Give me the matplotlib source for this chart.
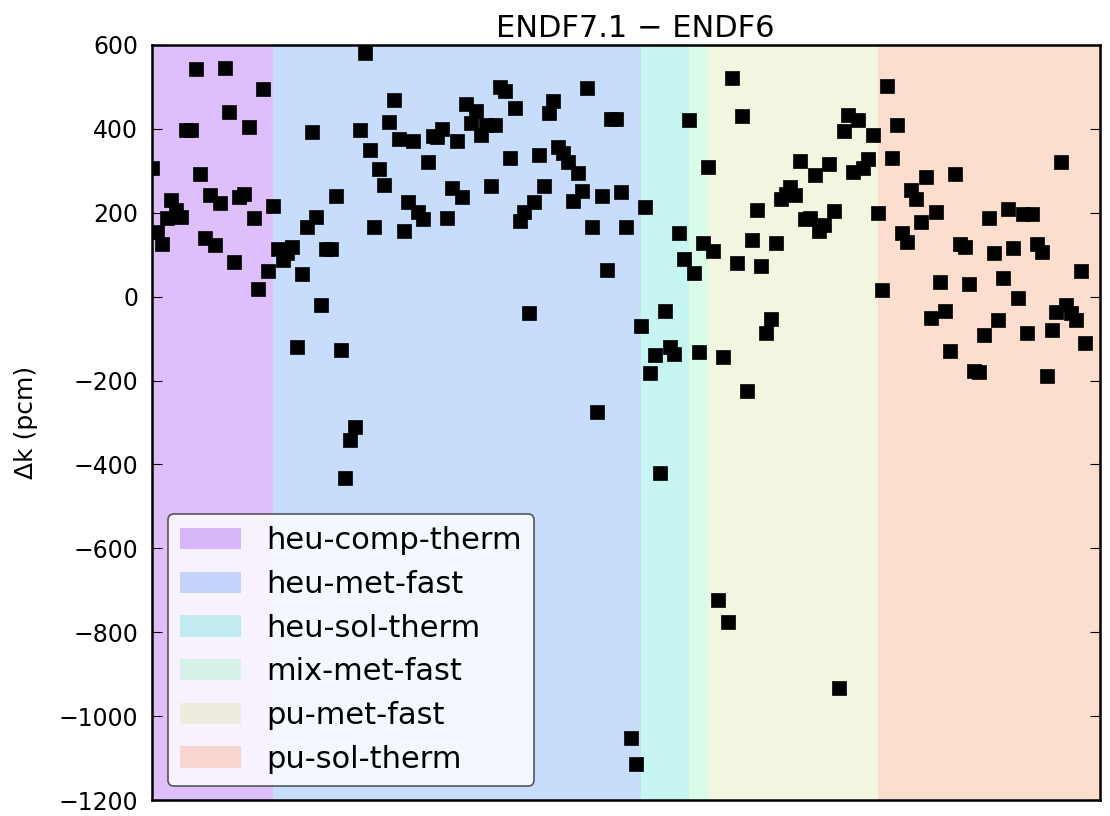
import numpy as np
import matplotlib
matplotlib.use("Agg")
import matplotlib.pyplot as plt

# delta k (pcm) per benchmark case, in plotted order
delta_k = [
    307, 155, 126, 187, 231, 207, 191, 397, 397, 542,
    292, 141, 242, 122, 223, 545, 441, 83, 238, 245,
    405, 187, 18, 495, 61, 215, 114, 87, 103, 119,
    -119, 53, 165, 392, 191, -20, 114, 114, 240, -127,
    -432, -342, -310, 397, 582, 350, 165, 304, 266, 417,
    468, 375, 157, 226, 370, 203, 185, 320, 383, 381,
    399, 188, 258, 372, 238, 459, 413, 443, 385, 409,
    264, 409, 501, 491, 330, 449, 181, 203, -38, 226,
    338, 265, 439, 467, 356, 342, 322, 228, 296, 253,
    497, 167, -274, 240, 64, 423, 424, 250, 165, -1051,
    -1113, -70, 213, -181, -140, -421, -33, -121, -137, 151,
    89, 421, 56, -132, 127, 310, 109, -723, -145, -776,
    521, 80, 431, -224, 135, 207, 74, -86, -53, 127,
    232, 245, 262, 242, 324, 185, 187, 289, 157, 171,
    316, 205, -934, 396, 433, 297, 421, 306, 328, 386,
    200, 16, 503, 330, 409, 151, 130, 254, 232, 179,
    285, -52, 203, 34, -33, -129, 292, 125, 119, 30,
    -177, -180, -91, 188, 105, -56, 44, 209, 117, -2,
    197, -86, 197, 125, 106, -189, -79, -36, 320, -21,
    -38, -56, 60, -110,
]

categories = ["heu-comp-therm", "heu-met-fast", "heu-sol-therm",
              "mix-met-fast", "pu-met-fast", "pu-sol-therm"]
category_edges = [0, 25, 101, 111, 115, 150, 196]
category_colors = ["#942df2", "#4b8ef2", "#48ded4", "#8af2b9", "#d7de98", "#f89462"]

case_index = np.arange(len(delta_k))

fig = plt.figure(figsize=(11.1, 8.16), dpi=100)
ax = fig.add_axes([152 / 1110, 16 / 816, 948 / 1110, 755 / 816])

for name, lo, hi, color in zip(categories, category_edges[:-1], category_edges[1:], category_colors):
    ax.axvspan(lo, hi, color=color, alpha=0.3, lw=0, label=name)

ax.plot(case_index, delta_k, "ks", ms=9.5, mew=0.5)

ax.set_xlim(0, 196)
ax.set_ylim(-1200, 600)
ax.set_yticks(range(-1200, 601, 200))
ax.set_xticks([])
ax.tick_params(axis="y", direction="in", length=7, right=True, labelsize=17, pad=10)
for spine in ax.spines.values():
    spine.set_linewidth(1.8)

ax.set_ylabel("Δk (pcm)", fontsize=18, labelpad=15)
ax.set_title("ENDF7.1 − ENDF6", fontsize=22, x=0.51, pad=6)

leg = ax.legend(loc="lower left", bbox_to_anchor=(0.0169, 0.0185), borderaxespad=0,
                fontsize=22, handlelength=2.0, handletextpad=0.8, labelspacing=0.48,
                framealpha=0.8, fancybox=True)
leg.get_frame().set_edgecolor("#333333")
leg.get_frame().set_linewidth(1.2)

plt.savefig("out.png", dpi=100)
